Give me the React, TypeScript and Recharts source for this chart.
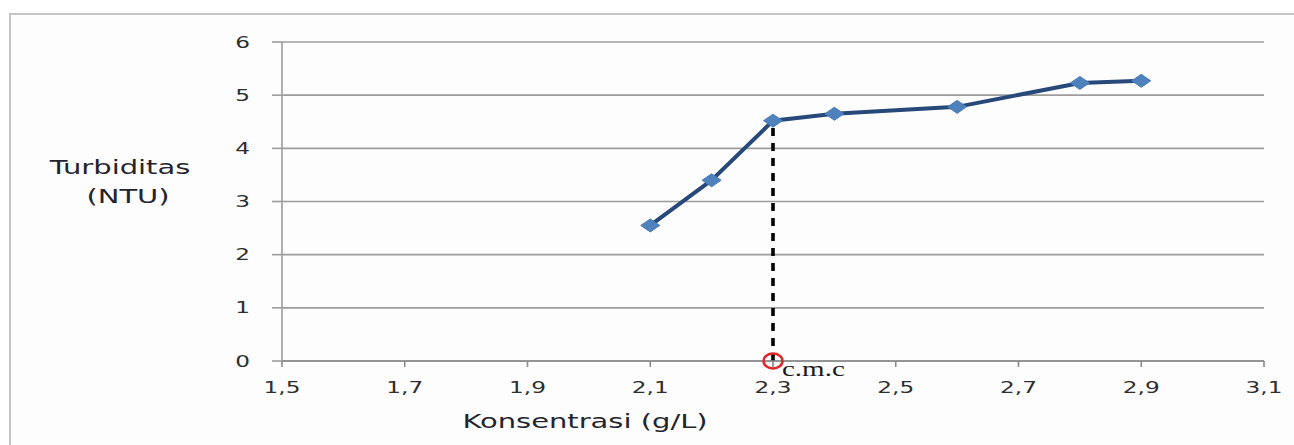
import React from "react";
import {
  LineChart,
  Line,
  XAxis,
  YAxis,
  CartesianGrid,
  ReferenceLine,
  ReferenceDot,
  Label,
} from "recharts";

// Concentration (g/L) and measured turbidity (NTU)
const konsentrasi = [2.1, 2.2, 2.3, 2.4, 2.6, 2.8, 2.9];
const turbiditas = [2.55, 3.4, 4.52, 4.65, 4.78, 5.23, 5.27];

const xTicks = [1.5, 1.7, 1.9, 2.1, 2.3, 2.5, 2.7, 2.9, 3.1];
const yTicks = [0, 1, 2, 3, 4, 5, 6];

// critical micelle concentration marker
const cmcX = 2.3;
const cmcY = turbiditas[konsentrasi.indexOf(cmcX)];
const cmcText = "c.m.c";

const yTitle = ["Turbiditas", "(NTU)"];
const xTitle = "Konsentrasi (g/L)";

const data = konsentrasi.map((k, i) => ({ k, t: turbiditas[i] }));

const W = 1294;
const H = 445;
const SX = 1.45; // horizontal stretch of the lettering
const FONT = "'DejaVu Sans', Verdana, sans-serif";

const fmt = (v: number) => v.toFixed(1).replace(".", ",");

const StretchText = ({
  x,
  y,
  children,
  anchor = "middle",
  size = 16,
  fill = "#2e2e2e",
  family = FONT,
  weight = "normal",
}: any) => (
  <g transform={`translate(${x},${y}) scale(${SX},1)`}>
    <text
      x={0}
      y={0}
      textAnchor={anchor}
      fontSize={size}
      fill={fill}
      fontFamily={family}
      fontWeight={weight}
    >
      {children}
    </text>
  </g>
);

const XTick = ({ x, y, payload }: any) => (
  <StretchText x={x} y={y + 26} anchor="middle" size={16}>
    {fmt(payload.value)}
  </StretchText>
);

const YTick = ({ x, y, payload }: any) => (
  <StretchText x={x} y={y + 5.5} anchor="end" size={16}>
    {String(payload.value)}
  </StretchText>
);

const Diamond = ({ cx, cy }: any) => {
  if (cx == null || cy == null) return null;
  return (
    <polygon
      points={`${cx - 9.5},${cy} ${cx},${cy - 6.5} ${cx + 9.5},${cy} ${cx},${cy + 6.5}`}
      fill="#4f81bd"
      stroke="#4a7cb8"
      strokeWidth={1}
    />
  );
};

const CmcMark = ({ cx, cy }: any) => (
  <g>
    <ellipse cx={cx} cy={cy} rx={9.5} ry={7.5} fill="none" stroke="#e02626" strokeWidth={2.4} />
    <StretchText
      x={cx + 9}
      y={cy + 15}
      anchor="start"
      size={20}
      fill="#1a1a1a"
      family="'Liberation Serif', 'Times New Roman', serif"
    >
      {cmcText}
    </StretchText>
  </g>
);

const YTitle = ({ viewBox }: any) => {
  const { x } = viewBox;
  return (
    <g>
      <StretchText x={x + 120} y={174} size={20} fill="#24242e">
        {yTitle[0]}
      </StretchText>
      <StretchText x={x + 128} y={203} size={20} fill="#24242e">
        {yTitle[1]}
      </StretchText>
    </g>
  );
};

const XTitle = ({ viewBox }: any) => {
  const { x, y } = viewBox;
  return (
    <StretchText x={x + 303} y={y + 67} size={20} fill="#24242e">
      {xTitle}
    </StretchText>
  );
};

export default function App() {
  return (
    <div style={{ position: "absolute", left: 0, top: 0, width: W, height: H, background: "#ffffff" }}>
      <div
        style={{
          position: "absolute",
          left: 9,
          top: 13,
          right: 0,
          bottom: 0,
          borderTop: "2px solid #c4c4c4",
          borderLeft: "2px solid #c4c4c4",
          background: "#fdfdfd",
        }}
      />
      <div style={{ position: "absolute", left: 0, top: 0 }}>
        <LineChart width={W} height={H} data={data} margin={{ top: 42, right: 30, left: 0, bottom: 0 }}>
          <CartesianGrid horizontal vertical={false} stroke="#9c9c9c" strokeWidth={1.6} />
          <XAxis
            dataKey="k"
            type="number"
            domain={[1.5, 3.1]}
            ticks={xTicks}
            interval={0}
            height={84}
            tickSize={6}
            tickMargin={0}
            stroke="#8a8a8a"
            strokeWidth={1.6}
            tick={<XTick />}
            allowDataOverflow
          >
            <Label content={<XTitle />} />
          </XAxis>
          <YAxis
            type="number"
            domain={[0, 6]}
            ticks={yTicks}
            interval={0}
            width={282}
            tickSize={10}
            tickMargin={22}
            stroke="#9c9c9c"
            strokeWidth={1.6}
            tick={<YTick />}
          >
            <Label content={<YTitle />} />
          </YAxis>
          <ReferenceLine
            segment={[
              { x: cmcX, y: 0 },
              { x: cmcX, y: cmcY },
            ]}
            stroke="#000000"
            strokeWidth={3.6}
            strokeDasharray="8 7"
          />
          <Line
            dataKey="t"
            stroke="#27497a"
            strokeWidth={4}
            dot={<Diamond />}
            activeDot={false}
            isAnimationActive={false}
          />
          <ReferenceDot x={cmcX} y={0} r={8} shape={<CmcMark />} />
        </LineChart>
      </div>
    </div>
  );
}
